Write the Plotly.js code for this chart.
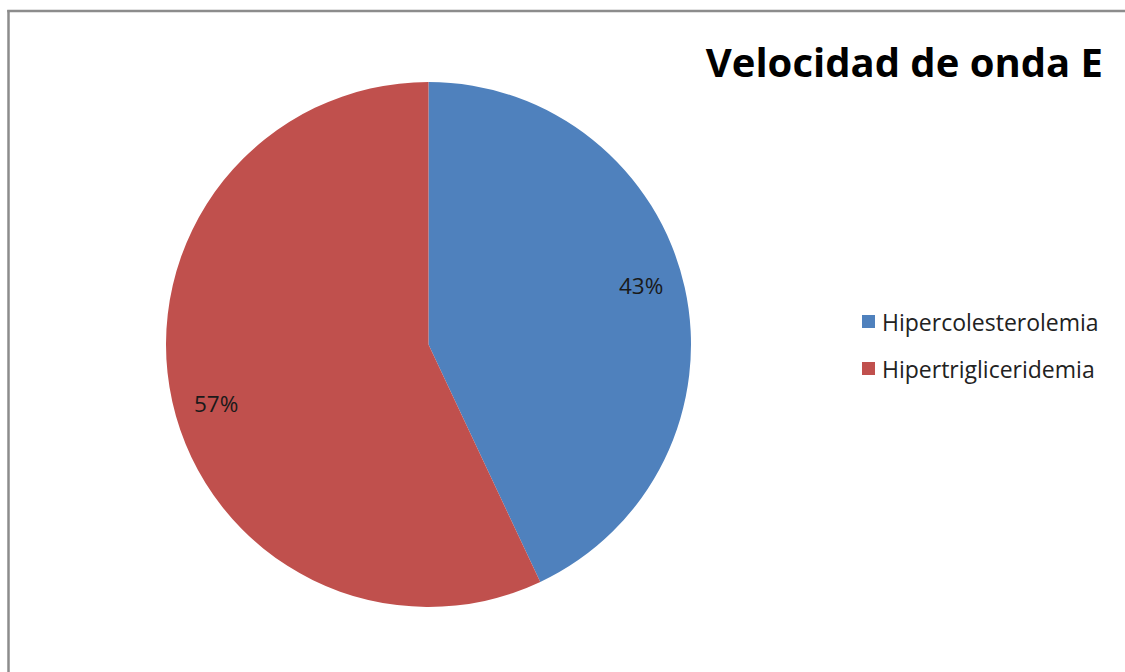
<!DOCTYPE html>
<html>
<head>
<meta charset="utf-8">
<script src="https://cdn.plot.ly/plotly-3.0.1.min.js"></script>
<style>
  html, body { margin: 0; padding: 0; background: #ffffff; overflow: hidden; }
  #chart { width: 1125px; height: 672px; overflow: hidden; }
</style>
</head>
<body>
<div id="chart"></div>
<script>
// Distribución de la velocidad de onda E por grupo
const categories = ['Hipercolesterolemia', 'Hipertrigliceridemia'];
const values = [43, 57];
const sliceColors = ['#4F81BD', '#C0504D'];
const chartTitle = 'Velocidad de onda E';

const W = 1125, H = 672;
const FONT = '"Open Sans", sans-serif';
const cx = 428.5, cy = 344.5, r = 262.5;

const trace = {
  type: 'pie',
  labels: categories,
  values: values,
  sort: false,
  direction: 'clockwise',
  rotation: 0,
  marker: { colors: sliceColors, line: { width: 0 } },
  textinfo: 'none',
  hoverinfo: 'label+percent',
  showlegend: false,
  domain: {
    x: [(cx - r) / W, (cx + r) / W],
    y: [(H - cy - r) / H, (H - cy + r) / H]
  }
};

// Percentage labels near the outer rim of each slice
const total = values.reduce((a, b) => a + b, 0);
const annotations = [];
let start = 0;
values.forEach((v, i) => {
  const frac = v / total;
  const mid = (start + frac / 2) * 2 * Math.PI - 3 * Math.PI / 180;
  start += frac;
  const rr = 0.84 * r;
  const px = cx + rr * Math.sin(mid);
  const py = cy - rr * Math.cos(mid);
  annotations.push({
    text: Math.round(frac * 100) + '%',
    xref: 'paper', yref: 'paper',
    x: px / W, y: 1 - py / H,
    xanchor: 'center', yanchor: 'middle',
    showarrow: false,
    font: { family: FONT, size: 22.5, color: '#1a1a1a' }
  });
});

// Legend entries: colour swatch plus category name
const shapes = [];
const legendX = 862, legendY0 = 321.5, legendStep = 47, sw = 13;
categories.forEach((name, i) => {
  const y = legendY0 + i * legendStep;
  shapes.push({
    type: 'rect', xref: 'paper', yref: 'paper',
    x0: legendX / W, x1: (legendX + sw) / W,
    y0: 1 - (y + sw / 2) / H, y1: 1 - (y - sw / 2) / H,
    fillcolor: sliceColors[i], line: { width: 0 }
  });
  annotations.push({
    text: name,
    xref: 'paper', yref: 'paper',
    x: (legendX + sw + 5) / W, y: 1 - y / H,
    xanchor: 'left', yanchor: 'middle',
    showarrow: false,
    font: { family: FONT, size: 23, color: '#222222' }
  });
});

// Chart area frame (left and top edges)
shapes.push({
  type: 'line', xref: 'paper', yref: 'paper',
  x0: 8.5 / W, x1: 8.5 / W, y0: 0, y1: 1 - 10 / H,
  line: { color: '#8c8c8c', width: 2.5 }
});
shapes.push({
  type: 'line', xref: 'paper', yref: 'paper',
  x0: 7.25 / W, x1: 1, y0: 1 - 11 / H, y1: 1 - 11 / H,
  line: { color: '#8c8c8c', width: 2.5 }
});

const layout = {
  width: W,
  height: H,
  margin: { l: 0, r: 0, t: 0, b: 0, pad: 0 },
  paper_bgcolor: '#ffffff',
  plot_bgcolor: '#ffffff',
  title: {
    text: '<b>' + chartTitle + '</b>',
    font: { family: FONT, size: 40, color: '#000000' },
    x: 1103 / W,
    xanchor: 'right',
    xref: 'paper',
    y: 1 - 63 / H,
    yanchor: 'middle',
    yref: 'paper'
  },
  showlegend: false,
  annotations: annotations,
  shapes: shapes
};

Plotly.newPlot('chart', [trace], layout, { displayModeBar: false, staticPlot: true });
</script>
</body>
</html>
